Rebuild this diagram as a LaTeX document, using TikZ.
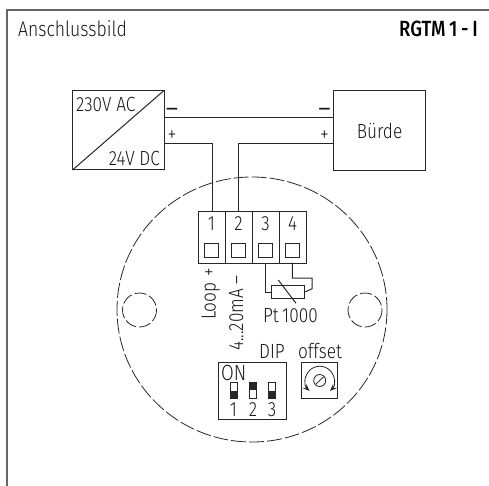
\documentclass[tikz,border=0pt]{standalone}
\usepackage{fontspec}
\setmainfont{Fira Sans Light}[FakeStretch=0.84,BoldFont={Fira Sans Medium}]
\usepackage{tikz}
\usetikzlibrary{arrows.meta}
\tikzset{frameline/.style={draw=black!60,line width=1.5pt},
  wire/.style={draw=black!85,line width=1pt},
  thinbox/.style={draw=black!85,line width=1pt},
  holebox/.style={draw=black!85,line width=0.9pt},
  dashcircle/.style={draw=black!85,line width=0.8pt,dash pattern=on 15pt off 3pt},
  dashhole/.style={draw=black!85,line width=0.8pt,dash pattern=on 12pt off 3pt},
  lbl/.style={text=black!90,font=\fontsize{20.5}{20.5}\selectfont,inner sep=0pt},
  pol/.style={text=black!90,font=\fontsize{21}{21}\selectfont,inner sep=0pt},
  neg/.style={text=black!90,font=\fontsize{17}{17}\selectfont\bfseries,inner sep=0pt}}
\begin{document}
\begin{tikzpicture}[x=1pt,y=-1pt]
            \useasboundingbox (0,0) rectangle (489,486);
            \draw [frameline] (7,486)--(7,10)--(489,10);
            \node[lbl,anchor=west,font=\fontsize{21}{21}\selectfont] (title) at (18,29) {Anschlussbild};
            \node[lbl,anchor=east,text=black,font=\fontsize{22}{22}\selectfont] (type) at (478,29) {\bfseries RGTM\,1\,-\,I};
            %%%%%%%%%%%%%%%%
            \coordinate (psuNW) at (72.5,90.5);
            \coordinate (psuSE) at (164,170);
            \draw [thinbox] (psuNW) rectangle (psuSE);
            \draw [thinbox] (72.5,170)--(164,90.5);
            \node[lbl,anchor=west] (ac) at (76,104) {230V AC};
            \node[lbl,anchor=east] (dc) at (160,158) {24V DC};
            \node[draw=black!85,line width=1pt,minimum width=92pt,minimum height=80pt,inner sep=0pt,text=black!90,font=\fontsize{20.5}{20.5}\selectfont] (load) at (379.5,130.5) {Bürde};
            \node[neg] (m1) at (172,111) {—};
            \node[pol] (p1) at (172,136) {+};
            \node[neg] (m2) at (324.5,111) {—};
            \node[pol] (p2) at (324.5,136) {+};
            %%%%%%%%%%%%%%%%
            \draw [dashcircle] (252,309.5) ellipse [x radius=135,y radius=132.5];
            \draw [dashhole] (139.5,310) circle (17);
            \draw [dashhole] (365,310) circle (17);
            %%%%%%%%%%%%%%%%
            \foreach \n/\x in {1/198,2/225,3/252,4/279}{
              \node[draw=black!85,line width=1pt,minimum width=27pt,minimum height=52pt,anchor=north west,inner sep=0pt] (t\n) at (\x,210.7) {};
              \node[lbl] (tn\n) at (\x+13.5,224) {\n};
              \node[holebox,minimum size=14pt,inner sep=0pt] (h\n) at (\x+13.5,250.7) {};
            }
            \draw [wire] (164,143.5)--(212.5,143.5)--(212.5,210.7);
            \draw [wire] (333.5,143.5)--(238.5,143.5)--(238.5,210.7);
            \draw [wire] (164,118)--(333.5,118);
            %%%%%%%%%%%%%%%%
            \node[draw=black!85,line width=1pt,minimum width=33pt,minimum height=13.5pt,inner sep=0pt] (pt) at (288.3,292) {};
            \draw [wire] (265.7,262.7)--(265.7,292)--(pt.west);
            \draw [wire] (292.3,262.7)--(292.3,278)--(312,278)--(312,288.7)--(pt.east);
            \draw [wire] (278.3,280)--(296,303.3);
            \node[lbl] (ptl) at (290.5,316) {Pt\,1000};
            \node[lbl,rotate=90,anchor=base west] (loop) at (215.5,320) {Loop\hspace{6pt}+};
            \node[lbl,rotate=90,anchor=base west] (ma) at (243,351) {4...20mA\hspace{5pt}–};
            %%%%%%%%%%%%%%%%
            \node[lbl] (dip) at (272,351) {DIP};
            \node[lbl] (off) at (320,351) {offset};
            \node[draw=black!85,line width=1pt,minimum width=68pt,minimum height=57pt,inner sep=0pt] (dipbox) at (252.3,390.8) {};
            \node[lbl,anchor=west,font=\fontsize{22}{22}\selectfont] (on) at (221,373) {ON};
            \foreach \n/\x in {1/233.5,2/253,3/272}{ \node[lbl] (dn\n) at (\x,410) {\n}; }
            \foreach \x in {234,272}{
              \draw [line width=0.8pt,draw=black!85] (\x-3.5,382.5) rectangle (\x+3.5,398.5);
              \fill [black!85] (\x-3.5,391) rectangle (\x+3.5,398.5);
            }
            \draw [line width=0.8pt,draw=black!85] (249.5,382.5) rectangle (256.5,398.5);
            \fill [black!85] (249.5,382.5) rectangle (256.5,390);
            %%%%%%%%%%%%%%%%
            \node[draw=black!85,line width=1pt,minimum width=36.5pt,minimum height=36pt,inner sep=0pt] (offbox) at (319.7,380.3) {};
            \draw [line width=0.8pt,draw=black!85,{Stealth[length=7pt,width=5.5pt]}-{Stealth[length=7pt,width=5.5pt]}] (309.5,391) arc (135:405:14.5);
            \draw [line width=0.8pt,draw=black!85] (319.7,380.5) circle (6);
            \draw [line width=0.8pt,draw=black!85] (316,384)--(323.5,377);
        \end{tikzpicture}
\end{document}
